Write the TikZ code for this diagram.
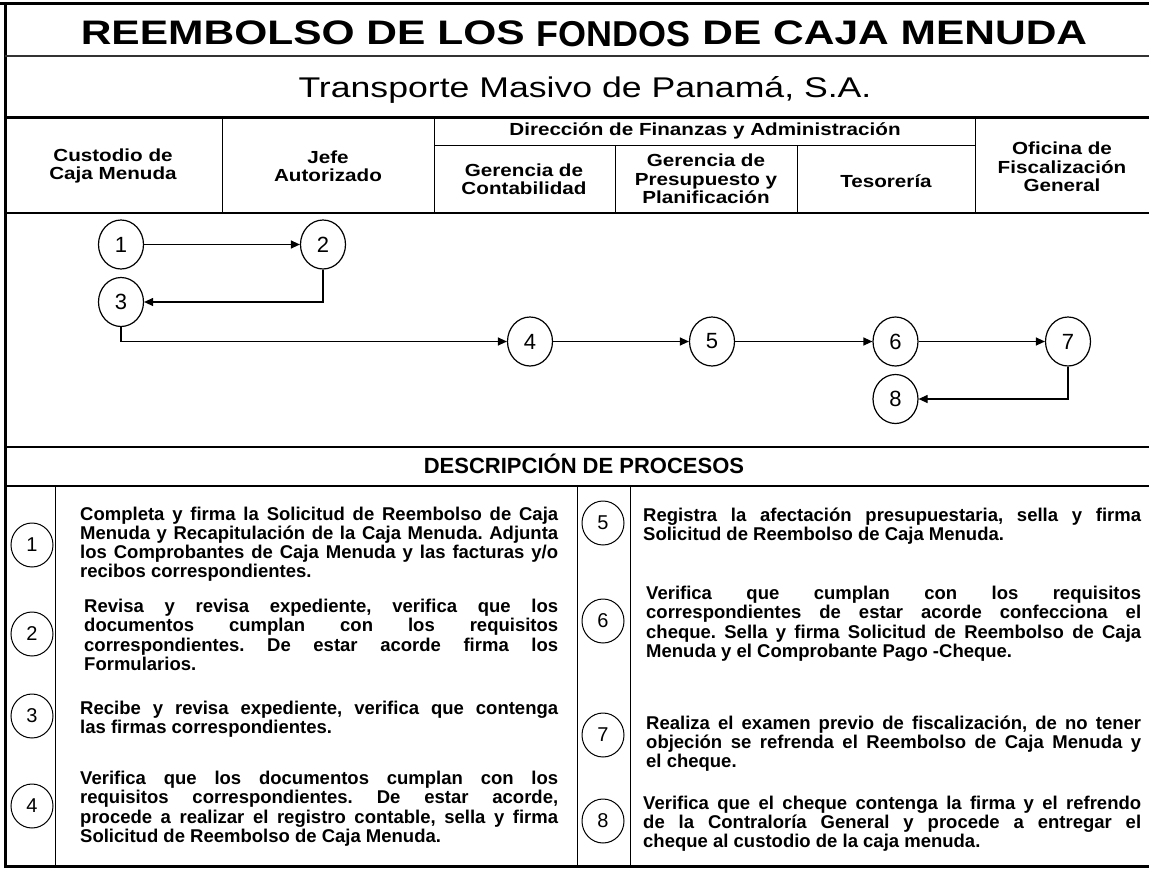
\documentclass[tikz,border=0pt]{standalone}
\usepackage{fontspec}
\setmainfont{Liberation Sans}
\newfontfamily\widefont[FakeStretch=1.25]{Liberation Sans}
\newfontfamily\headfont[FakeStretch=1.18]{Liberation Sans}
\usetikzlibrary{arrows.meta,shapes.geometric}

\tikzset{
  paso/.style={ellipse,draw,line width=1.2pt,minimum width=45pt,
    minimum height=49pt,inner sep=0pt,font=\fontsize{22}{24}\selectfont},
  pasodesc/.style={ellipse,draw,line width=1pt,minimum width=42pt,
    minimum height=44pt,inner sep=0pt,font=\fontsize{20}{22}\selectfont},
  flujo/.style={line width=1.2pt,-{Triangle[length=9pt,width=8pt]}},
  cabecera/.style={align=center,inner sep=0pt,
    font=\headfont\bfseries\fontsize{17.5}{18.3}\selectfont},
  texto/.style={anchor=base west,inner sep=0pt,align=justify,
    font=\bfseries\fontsize{18.5}{19.3}\selectfont},
  fina/.style={line width=1pt},
  gruesa/.style={line width=3pt}
}

\begin{document}
\begin{tikzpicture}[x=1pt,y=-1pt]
    \useasboundingbox (0,0) rectangle (1149,868);
    \hyphenpenalty=10000
    \tolerance=10000
    \frenchspacing

    \draw [gruesa] (0,3) -- (1149,3);
    \draw [gruesa] (5,2) -- (5,867);
    \draw [gruesa] (4,866) -- (1149,866);
    \draw [line width=2pt,black!80] (5,56) -- (1149,56);
    \draw [gruesa] (5,117) -- (1149,117);
    \draw [fina] (434,145) -- (975,145);
    \draw [line width=1.8pt] (5,213) -- (1149,213);
    \draw [fina] (222,117) -- (222,213);
    \draw [fina] (434,117) -- (434,213);
    \draw [fina] (975,117) -- (975,213);
    \draw [fina] (615,145) -- (615,213);
    \draw [fina] (797,145) -- (797,213);
    \draw [line width=2pt] (5,447) -- (1149,447);
    \draw [line width=1.5pt] (5,486) -- (1149,486);
    \draw [fina] (55,486) -- (55,866);
    \draw [fina] (577,486) -- (577,866);
    \draw [fina] (630,486) -- (630,866);

    \node (titulo) at (584,34) {\widefont\bfseries\fontsize{34}{36}\selectfont
      REEMBOLSO DE LOS \raisebox{-2pt}{\normalfont\bfseries\fontsize{36}{38}\selectfont
      FONDOS} DE CAJA MENUDA};
    \node (empresa) at (585,89.5) {\widefont\fontsize{28.5}{30}\selectfont
      Transporte Masivo de Panamá, S.A.};

    \node [cabecera] (custodio) at (113,166) {Custodio de\\Caja Menuda};
    \node [cabecera] (jefe) at (328,166) {Jefe\\Autorizado};
    \node [cabecera] (direccion) at (705,131) {Dirección de Finanzas y Administración};
    \node [cabecera] (contabilidad) at (524,179) {Gerencia de\\Contabilidad};
    \node [cabecera] (presupuesto) at (706,179) {Gerencia de\\Presupuesto y\\Planificación};
    \node [cabecera] (tesoreria) at (886,181) {Tesorería};
    \node [cabecera] (fiscalizacion) at (1062,167) {Oficina de\\Fiscalización\\General};

    \node [paso] (c1) at (121,244.5) {1};
    \node [paso] (c2) at (323,244.5) {2};
    \node [paso] (c3) at (121,302) {3};
    \node [paso] (c4) at (530,341.5) {4};
    \node [paso] (c5) at (712,341.5) {5};
    \node [paso] (c6) at (895.5,341.5) {6};
    \node [paso] (c7) at (1068,341.5) {7};
    \node [paso] (c8) at (895.5,399) {8};

    \draw [flujo] (c1) -- (c2);
    \draw [flujo] (c2.south) |- (c3.east);
    \draw [flujo] (c3.south) |- (c4.west);
    \draw [flujo] (c4) -- (c5);
    \draw [flujo] (c5) -- (c6);
    \draw [flujo] (c6) -- (c7);
    \draw [flujo] (c7.south) |- (c8.east);

    \node [font=\bfseries\fontsize{22}{24}\selectfont] (descripcion) at (584,464)
      {DESCRIPCIÓN DE PROCESOS};

    \node [pasodesc] (d1) at (32,545) {1};
    \node [pasodesc] (d2) at (32,634) {2};
    \node [pasodesc] (d3) at (32,716) {3};
    \node [pasodesc] (d4) at (32,806) {4};
    \node [pasodesc] (d5) at (603,523) {5};
    \node [pasodesc] (d6) at (603,621) {6};
    \node [pasodesc] (d7) at (603,735) {7};
    \node [pasodesc] (d8) at (603,821) {8};

    \node [texto,text width=478pt] (t1) at (80,520) {Completa y firma la Solicitud
      de Reembolso de Caja\linebreak Menuda y Recapitulación de la Caja Menuda.
      Adjunta\linebreak los Comprobantes de Caja Menuda y las facturas
      y/o\linebreak recibos correspondientes.};
    \node [texto,text width=474pt] (t2) at (84,612.5) {Revisa y revisa expediente,
      verifica que los\linebreak documentos cumplan con los requisitos\linebreak
      correspondientes. De estar acorde firma los\linebreak Formularios.};
    \node [texto,text width=478pt] (t3) at (80,714) {Recibe y revisa expediente,
      verifica que contenga\linebreak las firmas correspondientes.};
    \node [texto,text width=478pt] (t4) at (80,784.5) {Verifica que los documentos
      cumplan con los\linebreak requisitos correspondientes. De estar
      acorde,\linebreak procede a realizar el registro contable, sella y
      firma\linebreak Solicitud de Reembolso de Caja Menuda.};
    \node [texto,text width=498pt] (t5) at (643,521.5) {Registra la afectación
      presupuestaria, sella y firma\linebreak Solicitud de Reembolso de Caja
      Menuda.};
    \node [texto,text width=495pt] (t6) at (646,599.5) {Verifica que cumplan con
      los requisitos\linebreak correspondientes de estar acorde confecciona
      el\linebreak cheque. Sella y firma Solicitud de Reembolso de
      Caja\linebreak Menuda y el Comprobante Pago -Cheque.};
    \node [texto,text width=495pt] (t7) at (646,729) {Realiza el examen previo
      de fiscalización, de no tener\linebreak objeción se refrenda el
      Reembolso de Caja Menuda y\linebreak el cheque.};
    \node [texto,text width=498pt] (t8) at (643,809) {Verifica que el cheque
      contenga la firma y el refrendo\linebreak de la Contraloría General y
      procede a entregar el\linebreak cheque al custodio de la caja menuda.};
\end{tikzpicture}
\end{document}
